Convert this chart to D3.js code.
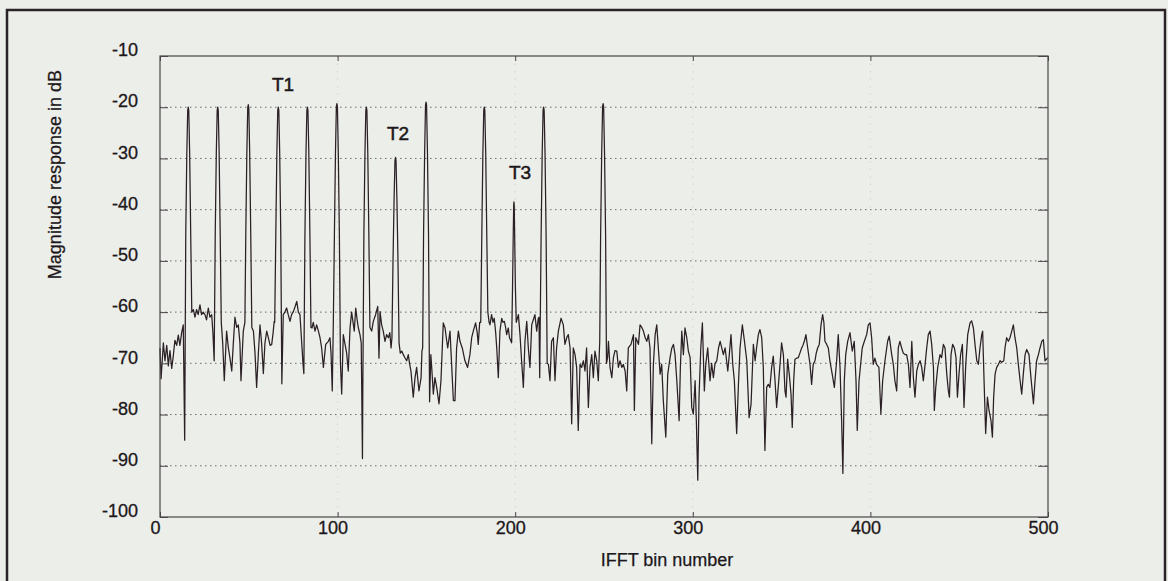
<!DOCTYPE html>
<html lang="en">
  <head>
    <meta charset="UTF-8" />
    <title>IFFT magnitude response</title>
    <script src="https://cdn.jsdelivr.net/npm/d3@7"></script>
    <style>
      body { margin: 0; background: #eceee9; }
      svg { display: block; }
      text { font-family: "Liberation Sans", Arial, sans-serif; fill: #1c171a; }
    </style>
  </head>
  <body>
    <svg width="1168" height="581"></svg>
    <script>
      // noise floor (bin, dB)
      const noiseBin = [0, 0.6, 1.9, 2.8, 3.8, 4.7, 5.6, 6.6, 7.5, 8.4, 9.4, 10.3, 11.2, 12.2, 13.1,
        18.8, 19.7, 20.6, 21.5, 22.5, 23.4, 24.3, 25.3, 26.2, 27.2, 28.1, 29.1, 29.8,
        35.3, 36.2, 37.5, 38.5, 39.4, 40.4, 41.3, 42.2, 43.2, 44.1, 45.0, 45.6, 46.9,
        52.6, 53.5, 54.4, 55.4, 56.3, 57.2, 58.2, 59.1, 60.1, 61.0, 62.0, 62.9, 63.7, 64.3,
        69.4, 70.3, 71.3, 72.2, 73.2, 74.1, 75.1, 76.0, 77.0, 77.9, 78.8, 79.8, 80.5,
        85.6, 86.3, 87.3, 88.2, 89.2, 90.1, 91.0, 92.0, 93.3, 94.8, 95.7, 96.3, 97.0,
        102.3, 103.2, 104.2, 105.1, 106.0, 107.0, 107.9, 108.7, 109.4, 110.2, 111.0, 111.7, 112.6, 113.3, 114.0,
        119.2, 120.1, 121.4, 122.6, 123.3, 123.9, 124.8, 125.7, 126.7, 127.6, 128.6, 129.4, 130.1,
        135.3, 136.1, 137.0, 137.9, 138.9, 139.8, 140.5, 141.3, 142.6, 143.6, 144.5, 145.8, 147.0, 147.5,
        152.5, 153.0, 153.9, 154.8, 155.8, 157.1, 158.2, 159.5, 160.5, 161.2, 162.0, 163.3, 164.2, 165.2, 166.1,
        167.0, 168.0, 168.9, 170.2, 171.7, 173.2, 174.5, 175.5, 176.4, 177.7, 178.6, 179.2, 180.0,
        185.3, 185.8, 186.7, 187.5, 188.2, 189.0, 189.6, 190.5, 191.4, 192.4, 193.1, 193.9, 194.6, 195.2, 196.1, 196.8,
        201.8, 202.7, 203.6, 204.6, 205.5, 206.5, 207.4, 208.3, 209.3, 210.2, 211.1, 212.1, 213.0, 213.4, 213.8,
        218.7, 219.6, 220.5, 221.5, 222.4, 223.3, 224.3, 225.8, 227.1, 228.0, 229.0, 229.9, 230.9, 231.8, 232.7,
        233.7, 234.6, 235.5, 236.5, 237.4, 238.4, 239.3, 240.2, 241.2, 242.1, 243.1, 244.0, 244.9, 245.9, 246.8,
        252.0, 252.5, 253.4, 254.4, 255.3, 256.2, 257.2, 258.1, 259.0, 260.0, 260.9, 261.9, 262.8, 263.7, 265.2,
        266.6, 267.1, 267.9, 269.4, 270.3, 271.3, 272.2, 273.2, 274.1, 275.0, 275.9, 276.9, 277.8, 278.8, 279.7,
        280.6, 281.6, 282.5, 283.4, 284.8, 285.9, 287.2, 288.2, 289.1, 290.0, 291.0, 292.3, 293.0, 293.8, 294.7,
        295.6, 296.6, 297.5, 298.5, 299.4, 300.3, 301.3, 302.0, 302.8, 303.5, 304.5, 305.4, 306.5, 307.3, 308.4,
        309.7, 310.6, 311.6, 312.5, 313.5, 314.5, 315.4, 316.3, 317.2, 318.2, 319.7, 320.4, 321.5, 322.5, 323.4,
        324.7, 325.7, 326.6, 327.9, 329.1, 330.4, 331.7, 332.8, 334.1, 335.1,
        335.9, 336.9, 337.8, 338.8, 339.7, 340.6, 341.6, 342.5, 343.4, 344.4, 345.3, 346.3, 347.2, 348.1, 349.1,
        350.0, 351.0, 351.9, 352.5, 353.4, 354.3, 355.3, 356.0, 356.8, 357.5, 358.5, 359.4, 360.3, 361.3, 362.0,
        362.8, 363.7, 364.7, 366.0, 366.9, 367.8, 368.8, 369.5, 370.3, 371.2, 372.2, 373.1, 373.8, 374.4, 375.4,
        376.3, 377.2, 378.5, 379.7, 381.0, 381.9, 382.9, 383.8, 384.5, 385.3, 386.1, 387.2, 388.5, 389.8, 390.9,
        391.9, 392.6, 393.6, 394.7, 395.4, 396.6, 397.9, 398.8, 399.8, 400.7, 401.6, 402.5, 403.5, 404.8, 405.9,
        406.9, 408.2, 409.7, 410.6, 412.0, 412.9, 413.8, 414.8, 415.7, 416.6, 417.6, 418.5, 419.5,
        420.4, 421.4, 422.3, 423.3, 424.2, 425.1, 426.1, 427.0, 428.0, 428.9, 429.8, 430.8, 431.7, 432.6, 433.6,
        434.5, 435.5, 436.0, 436.8, 437.9, 439.2, 440.1, 441.1, 442.0, 443.0, 443.9, 444.5, 445.4, 446.3, 447.3,
        448.2, 449.0, 449.9, 450.8, 451.8, 452.7, 453.7, 454.8, 456.1, 457.0, 458.0, 458.9, 459.9, 460.8, 461.7,
        462.7, 463.2, 464.0, 464.9, 465.9, 466.8, 467.9, 468.7, 469.4, 470.2, 471.1, 472.1, 473.0, 473.9, 475.1,
        475.8, 476.7, 477.7, 478.6, 479.6, 480.5, 481.4, 482.4, 483.3, 484.3, 485.2, 486.1, 487.1, 488.0, 489.3,
        490.4, 491.8, 492.7, 493.6, 494.6, 495.5, 496.5, 497.4, 498.3, 499.8];
      const noiseDb = [-67, -73, -66, -69.5, -66.5, -70.5, -67.5, -71, -68.5, -65.5, -66.5, -64.5, -66.5, -64, -62.5,
        -59.5, -61, -59.5, -60.5, -58.6, -60.5, -60, -60.5, -61.5, -59.2, -61, -60.5, -64,
        -66, -73.4, -63.7, -67, -69, -71.5, -66, -61, -63, -62.5, -66, -73.4, -63.7,
        -63.7, -68, -74.7, -68, -62.5, -66, -72, -66, -63.7, -65, -66.5, -66.3, -64, -61.8,
        -60.5, -60, -59.2, -60.5, -61.8, -60.5, -59.9, -59, -57.9, -60, -60.5, -66, -70,
        -63.1, -62, -63.7, -62.5, -63.7, -65, -67, -70.8, -66.3, -65.7, -65, -68, -75.4,
        -76, -64.4, -66.3, -68, -71.5, -63.1, -60, -62, -63.7, -59.2, -61.5, -63.1, -64.4, -66, -88.6,
        -63.7, -61.8, -60.5, -58.9, -69, -59.9, -62.5, -63.7, -65.7, -64.4, -65, -64, -67,
        -68, -67.6, -68.3, -68.9, -69.5, -68.3, -70, -71.5, -76.6, -72.8, -70.8, -75.4, -72.8, -67.6,
        -68.3, -70.8, -76, -72.8, -74.7, -77.9, -73.4, -62.1, -63.1, -65, -67, -63.7, -70.2, -77.3, -77.3,
        -67, -63.7, -65.7, -67, -69.5, -70.8, -68.3, -65, -63.7, -62.1, -64, -66.3, -62,
        -62, -62.5, -60.5, -62, -61.2, -64, -67, -72.8, -63.7, -61.2, -62, -61.8, -63, -64.4, -63.1, -65,
        -60.5, -64.4, -69.5, -74.7, -65.7, -61.8, -67, -70.8, -62.5, -61.5, -60.5, -63.7, -61.2, -61, -72.8,
        -70.2, -73.4, -65.7, -65, -73.4, -67, -63.7, -61.2, -62.5, -66.3, -65, -64.4, -67, -81.8, -67,
        -68.3, -70.8, -83.1, -70.2, -70.8, -69.5, -71.5, -67, -78.6, -70.8, -68.3, -72.8, -67.6, -69.5, -73.4,
        -68.9, -65.7, -70.8, -72.8, -68.9, -67.5, -67.6, -70.8, -69.5, -70.8, -70.2, -71.5, -75.4, -67, -66.3,
        -64.4, -79.2, -65, -66.3, -62.5, -63, -63.7, -65, -65.7, -64.4, -67, -85.7, -70.2, -64.4, -62.5,
        -67, -72.1, -70.2, -77.3, -84.4, -72.1, -68.9, -67, -66.3, -68.3, -73.4, -81.2, -70.8, -63.7, -68.3,
        -63.1, -65, -67.6, -68.9, -78.6, -79.9, -73.4, -81.2, -92.8, -76.6, -67, -62.1, -75.4, -70.2, -67,
        -73.4, -70, -72.8, -70, -69.5, -67, -65.7, -67, -68.3, -67, -71.5, -68.9, -64.4, -70.2, -73.4,
        -83.7, -74.1, -67, -62.5, -65.7, -69.5, -80.6, -78, -66.3, -69.5,
        -67, -64.4, -63.4, -65, -70.8, -87, -74.7, -74.1, -74.7, -70.8, -68.6, -73.4, -78.6, -74.7, -70.2,
        -66, -68.3, -75.4, -76.6, -69.2, -72.1, -76, -82.5, -73.4, -69.2, -69, -68.9, -68, -67, -66.5,
        -65.7, -64.4, -67, -70.2, -74.1, -70.2, -69.5, -68, -67, -66.3, -62.5, -60.5, -62, -65.7, -66.3,
        -67, -69.5, -72.1, -74.7, -69.5, -64.4, -70.8, -81.2, -91.5, -73.4, -68.3, -65.7, -64, -67.6, -65.7,
        -73.4, -83.1, -73.4, -69.5, -67, -65.7, -64.4, -62.5, -62.1, -65, -70.2, -69, -70.2, -70.8, -79.9,
        -73.4, -69.5, -65.7, -64.7, -68.3, -70.2, -73.4, -75.4, -67, -65.7, -67, -68, -68.3,
        -68.3, -70.2, -74.7, -65.7, -72.8, -76.6, -71.5, -70.2, -69.5, -70.8, -73.4, -70.2, -67, -64.4, -63.7,
        -66.3, -70.8, -79.2, -74.7, -70.8, -68.3, -68.9, -66.3, -67, -72.1, -75.4, -76.6, -68.3, -66.3, -67,
        -68.9, -76.6, -72.1, -68.3, -66.3, -78.6, -70.2, -64.4, -62.1, -61.7, -63.1, -66.3, -69.5, -70.2, -67,
        -64.4, -63.7, -73.4, -83.7, -76.6, -79.2, -81.2, -84.4, -76.6, -72.1, -70.8, -70.2, -69.5, -69.8, -69.5,
        -67, -65, -65.7, -65, -63.7, -62.5, -65, -67, -70.2, -73.4, -76, -72.1, -68.3, -67.3, -68.3,
        -72.8, -77.9, -73.4, -69.5, -68.3, -67, -65.7, -65.4, -69.5, -68.9];

      // the thirteen tone lobes, every point typed from the scan
      const peakBin = [13.9, 14.5, 15.1, 15.6, 15.9, 16.2, 16.7, 17.3, 17.9,
        30.5, 31.1, 31.7, 32.2, 32.5, 32.8, 33.3, 33.9, 34.5,
        47.8, 48.3, 48.9, 49.4, 49.7, 50.0, 50.5, 51.1, 51.7,
        64.6, 65.2, 65.8, 66.3, 66.6, 66.9, 67.4, 68.0, 68.6,
        81.0, 81.6, 82.2, 82.7, 83.0, 83.3, 83.8, 84.4, 85.0,
        97.6, 98.2, 98.8, 99.3, 99.6, 99.9, 100.4, 101.0, 101.6,
        114.2, 114.8, 115.4, 115.9, 116.2, 116.5, 117.0, 117.6, 118.2,
        130.6, 131.2, 131.8, 132.3, 132.6, 132.9, 133.4, 134.0, 134.6,
        147.9, 148.4, 149.0, 149.5, 149.8, 150.1, 150.6, 151.2, 151.8,
        180.6, 181.2, 181.8, 182.3, 182.6, 182.9, 183.4, 184.0, 184.6,
        198.0, 198.5, 198.9, 199.15, 199.3, 199.45, 199.7, 200.1, 200.6,
        214.1, 214.6, 215.2, 215.7, 216.0, 216.3, 216.8, 217.4, 218.0,
        247.6, 248.1, 248.7, 249.2, 249.5, 249.8, 250.3, 250.9, 251.4];
      const peakDb = [-85, -45, -29, -20.6, -20, -20.6, -29, -45, -60,
        -69.5, -45, -29, -20.6, -20, -20.6, -29, -45, -62,
        -62, -45, -29, -20.1, -19.5, -20.1, -29, -45, -63,
        -62, -45, -29, -20.6, -20, -20.6, -29, -45, -74,
        -72, -45, -29, -20.6, -20, -20.6, -29, -45, -63,
        -62, -45, -29, -19.9, -19.3, -19.9, -29, -45, -70,
        -75, -45, -29, -20.6, -20, -20.6, -29, -45, -63,
        -65, -50, -38, -30.4, -29.8, -30.4, -38, -50, -66,
        -67, -45, -29, -19.6, -19, -19.6, -29, -45, -77.5,
        -62, -45, -29, -20.6, -20, -20.6, -29, -45, -60,
        -66, -55, -45, -39.1, -38.5, -39.1, -45, -55, -62,
        -62, -45, -29, -20.6, -20, -20.6, -29, -45, -70,
        -65.7, -45, -29, -19.9, -19.3, -19.9, -29, -45, -70];

      const xTicks = [0, 100, 200, 300, 400, 500];
      const yTicks = [-10, -20, -30, -40, -50, -60, -70, -80, -90, -100];
      const tags = ["T1", "T2", "T3"];
      const tagBin = [69.3, 134, 202.7];
      const tagDb = [-16.8, -26.4, -34.0];

      const padL = 160, padR = 1048, padT = 56, padB = 517;
      const x = d3.scaleLinear().domain([0, 500]).range([padL, padR]);
      const y = d3.scaleLinear().domain([-100, -10]).range([padB, padT]);

      const svg = d3.select("svg");

      // page frame from the scan
      svg.append("rect").attr("x", 7).attr("y", 10).attr("width", 1158).attr("height", 600)
        .attr("fill", "none").attr("stroke", "#2a2327").attr("stroke-width", 2.5);

      // dotted grid
      svg.append("g").selectAll("line").data(yTicks.slice(1, -1)).join("line")
        .attr("x1", padL).attr("x2", padR)
        .attr("y1", d => y(d)).attr("y2", d => y(d))
        .attr("stroke", "#6d6a6c").attr("stroke-width", 1).attr("stroke-dasharray", "1.5,3.5");
      svg.append("g").selectAll("line").data(xTicks.slice(1, -1)).join("line")
        .attr("y1", padT).attr("y2", padB)
        .attr("x1", d => x(d)).attr("x2", d => x(d))
        .attr("stroke", "#9a979a").attr("stroke-width", 1).attr("stroke-dasharray", "1.5,6")
        .attr("opacity", 0.3);

      // curve
      const pts = noiseBin.map((b, i) => [b, noiseDb[i]])
        .concat(peakBin.map((b, i) => [b, peakDb[i]]))
        .sort((a, b) => a[0] - b[0]);
      const line = d3.line().x(d => x(d[0])).y(d => y(d[1]));
      svg.append("path").datum(pts).attr("d", line)
        .attr("fill", "none").attr("stroke", "#2a2025").attr("stroke-width", 1.25)
        .attr("stroke-linejoin", "round");

      // box + ticks
      svg.append("rect").attr("x", padL).attr("y", padT).attr("width", padR - padL).attr("height", padB - padT)
        .attr("fill", "none").attr("stroke", "#4a4548").attr("stroke-width", 1.2);

      const yAxis = svg.append("g").attr("transform", `translate(${padL},0)`)
        .call(d3.axisLeft(y).tickValues(yTicks).tickSize(-8).tickPadding(22).tickFormat(d => String(d)));
      yAxis.selectAll("text").attr("y", -6).style("font-size", "18px");
      svg.append("g").attr("transform", `translate(${padR},0)`)
        .call(d3.axisRight(y).tickValues(yTicks).tickSize(-10).tickFormat(""));
      const xAxis = svg.append("g").attr("transform", `translate(0,${padB})`)
        .call(d3.axisBottom(x).tickValues(xTicks).tickSize(-5).tickPadding(4));
      xAxis.selectAll("text").attr("dx", -5).style("font-size", "18px");
      svg.append("g").attr("transform", `translate(0,${padT})`)
        .call(d3.axisTop(x).tickValues(xTicks).tickSize(-5).tickFormat(""));
      svg.selectAll(".domain").remove();
      svg.selectAll(".tick line").attr("stroke", "#4a4548");
      svg.selectAll(".tick text").attr("fill", "#1c171a")
        .attr("stroke", "#1c171a").attr("stroke-width", 0.3)
        .style("font-family", "'Liberation Sans', Arial, sans-serif");

      // axis titles
      svg.append("text").attr("x", 667).attr("y", 566).attr("text-anchor", "middle")
        .attr("stroke", "#1c171a").attr("stroke-width", 0.25)
        .style("font-size", "18px").text("IFFT bin number");
      svg.append("text").attr("transform", "translate(61,70) rotate(-90)").attr("text-anchor", "end")
        .attr("stroke", "#1c171a").attr("stroke-width", 0.25)
        .style("font-size", "18px").text("Magnitude response in dB");

      // tone tags
      svg.append("g").selectAll("text").data(tags).join("text")
        .attr("x", (d, i) => x(tagBin[i])).attr("y", (d, i) => y(tagDb[i]))
        .attr("text-anchor", "middle").style("font-size", "19px")
        .attr("stroke", "#1c171a").attr("stroke-width", 0.5)
        .text(d => d);
    </script>
  </body>
</html>
